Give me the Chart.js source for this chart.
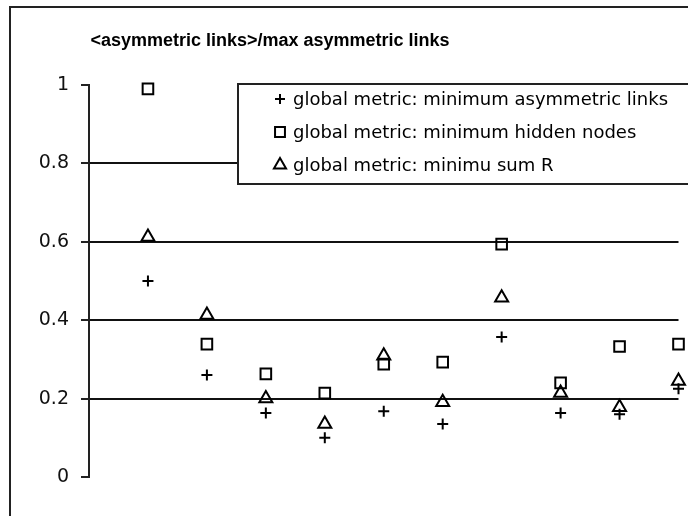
<!DOCTYPE html>
<html>
<head>
<meta charset="utf-8">
<script src="https://cdn.jsdelivr.net/npm/chart.js@4"></script>
<style>
  html, body { margin: 0; padding: 0; background: #fff; }
  #wrap { width: 688px; height: 516px; }
</style>
</head>
<body>
<div id="wrap"><canvas id="Chart" width="688" height="516"></canvas></div>
<script>
// chart values
const categories = [1, 2, 3, 4, 5, 6, 7, 8, 9, 10];
const asymLinks = [0.50, 0.26, 0.163, 0.10, 0.168, 0.135, 0.357, 0.163, 0.16, 0.225];
const hiddenNodes = [0.99, 0.339, 0.263, 0.214, 0.288, 0.293, 0.594, 0.24, 0.333, 0.339];
const sumR = [0.612, 0.413, 0.20, 0.135, 0.309, 0.191, 0.457, 0.214, 0.178, 0.245];
const yTicks = [0, 0.2, 0.4, 0.6, 0.8, 1];
const titleText = '<asymmetric links>/max asymmetric links';
const seriesNames = [
    'global metric: minimum asymmetric links',
    'global metric: minimum hidden nodes',
    'global metric: minimu sum R'
];

function points(values) {
    return categories.map((c, i) => ({ x: c, y: values[i] }))
}

const ctx = document.getElementById('Chart').getContext('2d');

// frame, title and the boxed legend like the old spreadsheet chart
const decor = {
    id: 'decor',
    beforeDraw(chart) {
        const c = chart.ctx
        c.save()
        c.fillStyle = '#fff'
        c.fillRect(0, 0, chart.width, chart.height)
        c.restore()
    },
    afterDraw(chart) {
        const c = chart.ctx
        c.save()
        c.strokeStyle = '#222'
        c.lineWidth = 2
        c.strokeRect(10, 7, 700, 540)

        c.fillStyle = '#000'
        c.font = 'bold 18px "Liberation Sans", Arial, sans-serif'
        c.textAlign = 'center'
        c.textBaseline = 'middle'
        c.fillText(titleText, 270, 41)

        // legend box
        c.fillStyle = '#fff'
        c.fillRect(238, 84, 460, 100)
        c.strokeRect(238, 84, 460, 100)
        const rows = [99, 132, 165]
        chart.data.datasets.forEach((ds, i) => {
            c.strokeStyle = '#000'
            c.fillStyle = 'rgba(0,0,0,0)'
            c.lineWidth = 2
            Chart.helpers.drawPoint(c, {
                pointStyle: ds.pointStyle,
                radius: ds.pointRadius - 0.5,
                borderWidth: 2
            }, 280, rows[i])
            c.fillStyle = '#000'
            c.font = '18px "DejaVu Sans", sans-serif'
            c.textAlign = 'left'
            c.textBaseline = 'middle'
            c.fillText(ds.label, 293, rows[i] + 1)
        })
        c.restore()
    }
}

const myChart = new Chart(ctx, {
    type: 'scatter',
    data: {
        datasets: [{
            label: seriesNames[0],
            data: points(asymLinks),
            pointStyle: 'cross',
            pointRadius: 5.5,
            borderColor: '#000',
            backgroundColor: 'rgba(0,0,0,0)',
            pointBorderWidth: 2,
            clip: false
        }, {
            label: seriesNames[1],
            data: points(hiddenNodes),
            pointStyle: 'rect',
            pointRadius: 7.5,
            borderColor: '#000',
            backgroundColor: 'rgba(0,0,0,0)',
            pointBorderWidth: 2,
            clip: false
        }, {
            label: seriesNames[2],
            data: points(sumR),
            pointStyle: 'triangle',
            pointRadius: 7.5,
            borderColor: '#000',
            backgroundColor: 'rgba(0,0,0,0)',
            pointBorderWidth: 2,
            clip: false
        }]
    },
    options: {
        responsive: false,
        animation: false,
        layout: {
            padding: { top: 85, bottom: 39, left: 0, right: 9 }
        },
        plugins: {
            legend: { display: false },
            title: { display: false },
            tooltip: { enabled: false }
        },
        scales: {
            x: {
                type: 'linear',
                display: false,
                min: 0,
                max: 10
            },
            y: {
                min: 0,
                max: 1,
                afterFit: (scale) => { scale.width = 89 },
                afterBuildTicks: (scale) => {
                    scale.ticks = yTicks.map(v => ({ value: v }))
                },
                border: { display: true, color: '#222', width: 2 },
                grid: {
                    color: (c) => (c.tick && c.tick.value > 0.01 && c.tick.value < 0.99) ? '#111' : 'rgba(0,0,0,0)',
                    tickColor: '#222',
                    lineWidth: 2,
                    tickLength: 8
                },
                ticks: {
                    color: '#111',
                    padding: 12,
                    font: { family: '"DejaVu Sans", sans-serif', size: 19 },
                    callback: (v) => String(v)
                }
            }
        }
    },
    plugins: [decor]
});
</script>
</body>
</html>
